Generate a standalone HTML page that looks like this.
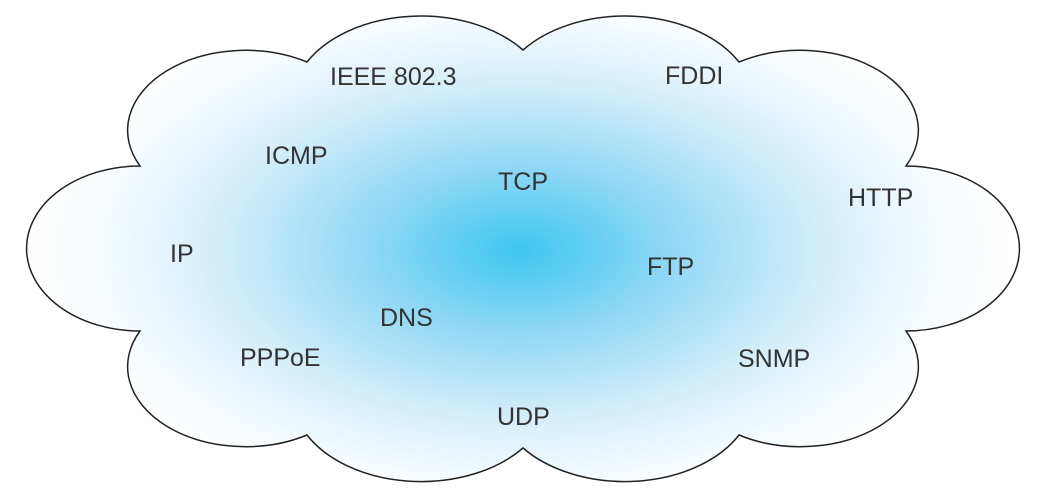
<!DOCTYPE html>
<html><head><meta charset="utf-8"><style>
html,body{margin:0;padding:0;background:#fff;}
svg{display:block;}
text{font-family:"Liberation Sans",sans-serif;font-size:25px;fill:#333;}
</style></head><body>
<svg width="1038" height="499" viewBox="0 0 1038 499" xmlns="http://www.w3.org/2000/svg">
<defs>
<radialGradient id="g" cx="520" cy="250" r="500" gradientUnits="userSpaceOnUse" gradientTransform="translate(520 250) scale(1 0.55) translate(-520 -250)">
<stop offset="0" stop-color="#3ec6f1"/>
<stop offset="0.3" stop-color="#8fd8f5"/>
<stop offset="0.6" stop-color="#d3edf9"/>
<stop offset="0.85" stop-color="#f7fcfe"/>
<stop offset="1" stop-color="#ffffff"/>
</radialGradient>
</defs>
<path d="M140,166 A118 80 0 0 1 307,62 A129 87 0 0 1 523,50 A129 87 0 0 1 739,62 A118 80 0 0 1 906,166 A110 80 0 0 1 906,331 A118 80 0 0 1 739,435 A129 87 0 0 1 523,448 A129 87 0 0 1 307,435 A118 80 0 0 1 140,331 A110 80 0 0 1 140,166 Z" fill="url(#g)" stroke="#222" stroke-width="1.5"/>
<text x="330" y="85">IEEE 802.3</text>
<text x="665" y="84">FDDI</text>
<text x="265" y="164">ICMP</text>
<text x="498" y="190">TCP</text>
<text x="848" y="206">HTTP</text>
<text x="170" y="262">IP</text>
<text x="647" y="275">FTP</text>
<text x="380" y="326">DNS</text>
<text x="240" y="366">PPPoE</text>
<text x="738" y="367">SNMP</text>
<text x="497" y="425">UDP</text>
</svg>
</body></html>
